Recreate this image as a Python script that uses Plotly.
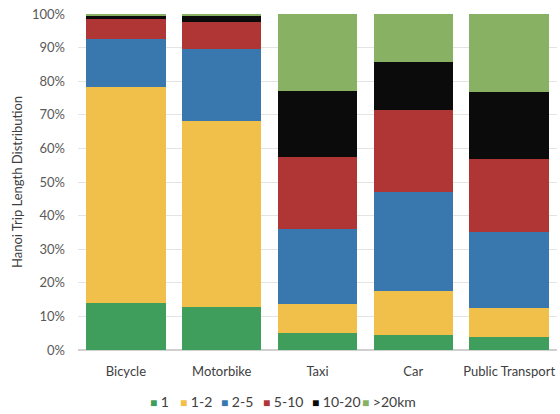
import plotly.graph_objects as go

# Trip length distribution (%) by travel mode, Hanoi
modes = ["Bicycle", "Motorbike", "Taxi", "Car", "Public Transport"]
bands = ["1", "1-2", "2-5", "5-10", "10-20", ">20km"]
share_1 = [14.0, 12.9, 5.0, 4.4, 3.9]
share_1_2 = [64.4, 55.3, 8.6, 13.2, 8.5]
share_2_5 = [14.3, 21.3, 22.3, 29.5, 22.8]
share_5_10 = [5.8, 8.0, 21.6, 24.3, 21.6]
share_10_20 = [1.2, 2.0, 19.7, 14.3, 20.1]
share_20_plus = [0.3, 0.5, 22.8, 14.3, 23.1]

series = [share_1, share_1_2, share_2_5, share_5_10, share_10_20, share_20_plus]
colors = ["#3f9e5b", "#f0c04a", "#3878ae", "#b03535", "#0b0b0b", "#89b163"]

fig = go.Figure()
for name, vals, col in zip(bands, series, colors):
    fig.add_trace(go.Bar(
        x=modes, y=vals, name=name,
        marker=dict(color=col, line=dict(width=0)),
    ))

font_family = "Lato, Open Sans, sans-serif"
W, H = 560, 414
L, R, T, B = 78, 3, 14, 64
plot_w = W - L - R
plot_h = H - T - B

# Compact legend row under the axis: coloured square + label per band
legend_left_px = [148, 178, 219, 261, 310, 360]
legend_y = (H - B - 402) / plot_h
annotations = []
for name, col, px in zip(bands, colors, legend_left_px):
    annotations.append(dict(
        xref="paper", yref="paper",
        x=(px - L) / plot_w, y=legend_y,
        xanchor="left", yanchor="middle",
        text=f"<span style='color:{col}; font-size:12px'>■</span> {name}",
        showarrow=False,
        font=dict(family=font_family, size=14, color="#404040"),
    ))

fig.update_layout(
    barmode="stack",
    bargap=0.17,
    width=W, height=H,
    margin=dict(l=L, r=R, t=T, b=B, autoexpand=False),
    paper_bgcolor="white",
    plot_bgcolor="white",
    font=dict(family=font_family, size=13, color="#595959"),
    showlegend=False,
    annotations=annotations,
    xaxis=dict(showline=False, ticks="", ticklabelstandoff=12,
               tickfont=dict(size=13, color="#404040")),
    yaxis=dict(
        range=[0, 100], dtick=10, ticksuffix="%",
        showgrid=True, gridcolor="#e4e4e4", gridwidth=1,
        zeroline=True, zerolinecolor="#d0d0d0",
        ticklabelstandoff=12,
        tickfont=dict(size=13, color="#595959"),
        title=dict(text="Hanoi Trip Length Distribution",
                   font=dict(size=13, color="#404040"), standoff=6),
    ),
)

fig.write_html("out.html")
